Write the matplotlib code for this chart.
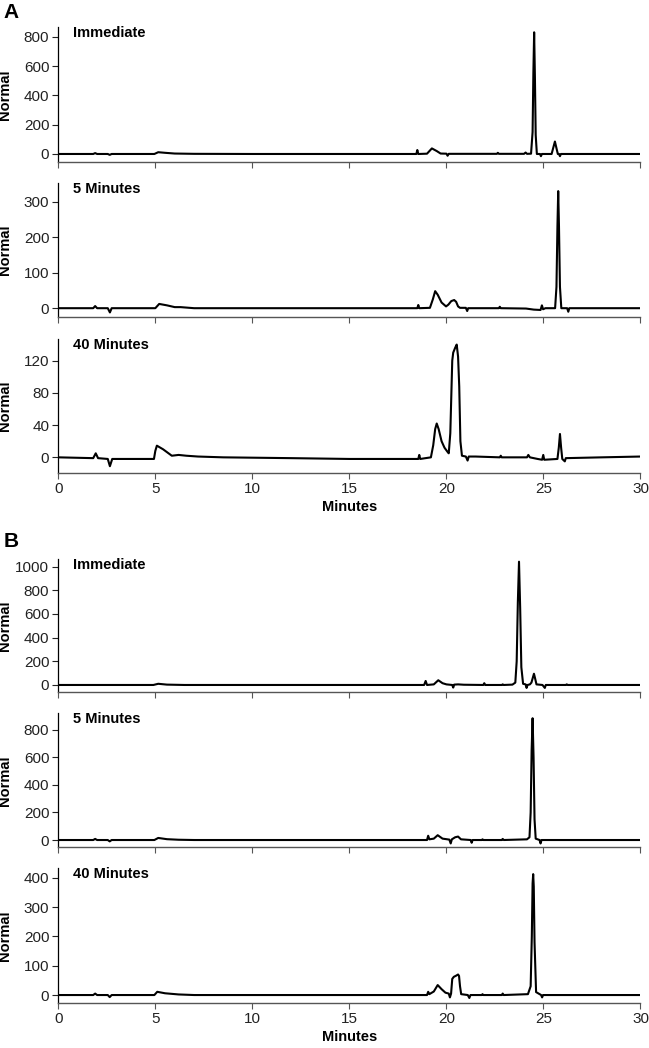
import numpy as np
import matplotlib
matplotlib.use("Agg")
import matplotlib.pyplot as plt

plt.rcParams['font.family'] = ['Liberation Sans', 'DejaVu Sans']

# A - Immediate
a1_t = [0, 1.8, 1.9, 2.0, 2.55, 2.65, 2.75, 4.95, 5.15, 5.5, 6.0, 7.0, 10, 15, 18.45, 18.5, 18.55,
        19.0, 19.25, 19.5, 19.7, 20.0, 20.06, 20.12, 22.6, 22.65, 22.7, 24.0, 24.08, 24.15, 24.36,
        24.44, 24.48, 24.52, 24.56, 24.6, 24.66, 24.82, 24.87, 24.92, 25.42, 25.52, 25.59, 25.66,
        25.74, 25.8, 25.85, 25.9, 30]
a1_y = [0, 0, 6, 0, 0, -6, 0, 0, 12, 8, 3, 1, 0, 0, 0, 27, 0, 2, 38, 20, 3, 2, -12, 1, 1, 8, 1, 1,
        10, 1, 2, 150, 550, 830, 520, 130, 0, 0, -15, 0, 0, 50, 85, 45, 0, 0, -15, 0, 0]

# A - 5 Minutes
a2_t = [0, 1.8, 1.9, 2.0, 2.55, 2.66, 2.75, 5.0, 5.2, 5.6, 6.0, 6.3, 7.0, 10, 15, 18.5, 18.55,
        18.6, 19.15, 19.3, 19.42, 19.55, 19.75, 19.98, 20.1, 20.25, 20.4, 20.5, 20.6, 20.7, 21.0,
        21.07, 21.12, 22.7, 22.75, 22.8, 24.1, 24.5, 24.85, 24.92, 24.98, 25.1, 25.6, 25.67, 25.72,
        25.76, 25.8, 25.85, 25.92, 26.22, 26.28, 26.33, 30]
a2_y = [0, 0, 6, 0, 0, -12, 0, 0, 12, 8, 3, 3, 0, 0, 0, 0, 9, 0, 1, 25, 48, 38, 16, 5, 10, 20, 23,
        18, 5, 1, 1, -8, 0, 0, 4, 0, -1, -4, -5, 8, -3, 0, 0, 60, 230, 330, 230, 60, 0, 0, -10, 0, 0]

# A - 40 Minutes
a3_t = [0, 1.8, 1.93, 2.05, 2.55, 2.66, 2.78, 4.93, 5.0, 5.08, 5.4, 5.85, 6.2, 6.6, 7.2, 8.5, 12,
        15, 18.55, 18.6, 18.65, 19.2, 19.32, 19.42, 19.5, 19.6, 19.75, 19.9, 20.05, 20.12, 20.2,
        20.3, 20.35, 20.45, 20.53, 20.6, 20.66, 20.72, 20.8, 21.0, 21.09, 21.15, 21.5, 22.75, 22.8,
        22.85, 24.15, 24.22, 24.3, 24.7, 24.93, 24.99, 25.04, 25.72, 25.79, 25.85, 25.91, 25.97,
        26.1, 26.15, 28, 30]
a3_y = [0, -1, 5, -1, -2, -11, -2, -2, 8, 14.5, 10, 2, 3, 2, 1, 0, -1, -2, -2, 3, -2, 0, 15, 35,
        42, 35, 20, 12, 7, 5, 30, 120, 130, 136, 140, 125, 88, 20, 2, 1, -4, 1, 1, 0, 2, 0, 0, 3,
        0, -2, -3, 3, -3, -2, 12, 29, 12, -2, -5, -1, 0, 1]

# B - Immediate
b1_t = [0, 4.9, 5.15, 5.6, 6.5, 10, 15, 18.85, 18.93, 19.0, 19.35, 19.58, 19.8, 20.0, 20.3, 20.35,
        20.4, 20.6, 20.9, 21.9, 21.95, 22.0, 22.85, 22.9, 22.95, 23.4, 23.55, 23.62, 23.68, 23.74,
        23.8, 23.86, 23.95, 24.08, 24.13, 24.18, 24.3, 24.38, 24.45, 24.51, 24.57, 24.64, 24.95,
        25.07, 25.12, 26.15, 26.2, 26.25, 30]
b1_y = [0, 0, 10, 3, 0, 0, 0, 0, 34, 0, 5, 40, 15, 5, 0, -22, 3, 5, 2, 0, 15, 0, 0, 5, 0, 3, 20,
        200, 700, 1042, 650, 150, 10, 5, -25, 0, 5, 20, 60, 95, 55, 5, 0, -25, 0, 0, 5, 0, 0]

# B - 5 Minutes
b2_t = [0, 1.8, 1.9, 2.0, 2.55, 2.65, 2.75, 4.95, 5.15, 5.6, 6.2, 7.0, 10, 15, 19.0, 19.06, 19.12,
        19.35, 19.55, 19.8, 20.15, 20.22, 20.28, 20.45, 20.6, 20.75, 21.25, 21.3, 21.35, 21.82,
        21.86, 21.9, 22.85, 22.9, 22.95, 24.15, 24.28, 24.34, 24.39, 24.44, 24.49, 24.54, 24.6,
        24.8, 24.85, 24.9, 30]
b2_y = [0, 0, 8, 0, 0, -10, 0, 0, 15, 6, 2, 0, 0, 0, 0, 31, 5, 10, 35, 10, 3, -25, 5, 20, 25, 5,
        0, -20, 0, 0, 5, 0, 0, 8, 0, 5, 20, 200, 650, 885, 600, 150, 10, 0, -25, 0, 0]

# B - 40 Minutes
b3_t = [0, 1.8, 1.9, 2.0, 2.55, 2.65, 2.75, 4.95, 5.1, 5.5, 6.2, 7.0, 10, 15, 19.0, 19.06, 19.12,
        19.35, 19.55, 19.75, 19.95, 20.12, 20.18, 20.24, 20.3, 20.38, 20.5, 20.6, 20.65, 20.7,
        20.76, 21.1, 21.18, 21.24, 21.82, 21.86, 21.9, 22.85, 22.9, 22.95, 24.2, 24.34, 24.4,
        24.44, 24.47, 24.5, 24.54, 24.62, 24.88, 24.93, 24.98, 30]
b3_y = [0, 0, 5, 0, 0, -7, 0, 0, 11, 6, 2, 0, 0, 0, 0, 11, 3, 12, 34, 20, 8, 5, -8, 5, 55, 62, 66,
        70, 65, 30, 3, 0, -10, 0, 0, 3, 0, 0, 5, 0, 3, 30, 200, 380, 412, 370, 180, 10, 0, -8, 0, 0]

titulos = ["Immediate", "5 Minutes", "40 Minutes"]
x_ticks = [0, 5, 10, 15, 20, 25, 30]

paneles = [
    # (t, y, titulo, ylim, yticks, bottom, height, etiquetas_x)
    (a1_t, a1_y, titulos[0], (-57, 868), [0, 200, 400, 600, 800], 0.8451, 0.1294, False),
    (a2_t, a2_y, titulos[1], (-24, 352), [0, 100, 200, 300], 0.6978, 0.1273, False),
    (a3_t, a3_y, titulos[2], (-19, 147), [0, 40, 80, 120], 0.5490, 0.1276, True),
    (b1_t, b1_y, titulos[0], (-62, 1062), [0, 200, 400, 600, 800, 1000], 0.3394, 0.1269, False),
    (b2_t, b2_y, titulos[1], (-53, 921), [0, 200, 400, 600, 800], 0.1915, 0.1279, False),
    (b3_t, b3_y, titulos[2], (-28, 432), [0, 100, 200, 300, 400], 0.0427, 0.1288, True),
]

fig = plt.figure(figsize=(6.49, 10.48), dpi=100)

for t, y, tit, ylim, yt, bot, h, conx in paneles:
    ax = fig.add_axes([0.0898, bot, 0.8971, h])
    ax.plot(t, y, color='black', linewidth=1.5, solid_joinstyle='round')
    ax.set_xlim(0, 30)
    ax.set_ylim(*ylim)
    ax.set_xticks(x_ticks)
    ax.set_yticks(yt)
    ax.spines['top'].set_visible(False)
    ax.spines['right'].set_visible(False)
    ax.spines['left'].set_color('black')
    ax.spines['bottom'].set_color('#555555')
    ax.spines['left'].set_linewidth(0.9)
    ax.spines['bottom'].set_linewidth(1.0)
    ax.tick_params(axis='both', direction='out', length=4.5, width=0.8, labelsize=11,
                   colors='#222222', pad=2)
    ax.tick_params(axis='x', colors='#555555', labelcolor='#222222')
    if conx:
        ax.set_xlabel("Minutes", fontsize=10.5, fontweight='bold', labelpad=3)
    else:
        ax.set_xticklabels([])
    ax.set_ylabel("Normal", fontsize=10.5, fontweight='bold')
    ax.yaxis.set_label_coords(-0.079, 0.5)
    ax.text(0.025, 0.955, tit, transform=ax.transAxes, fontsize=10.5, fontweight='bold',
            ha='left', va='center')

fig.text(0.005, 0.988, "A", fontsize=15, fontweight='bold', ha='left', va='center')
fig.text(0.005, 0.483, "B", fontsize=15, fontweight='bold', ha='left', va='center')

fig.savefig("out.png", dpi=100)
